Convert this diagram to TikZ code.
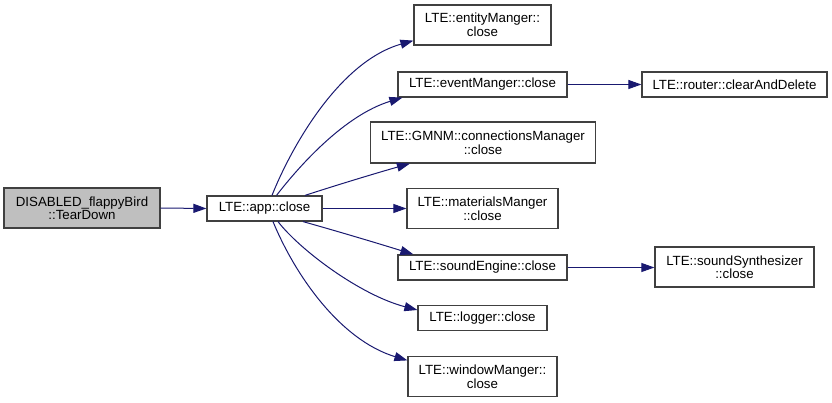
\documentclass[tikz,border=0pt]{standalone}
\usepackage{fontspec}
\setmainfont{Liberation Sans}
\usetikzlibrary{arrows.meta,calc}
\definecolor{edgeblue}{HTML}{191970}
\definecolor{boxline}{HTML}{404040}
\definecolor{grayfill}{HTML}{BFBFBF}
\tikzset{
  fbox/.style={draw=boxline, line width=1.2pt, fill=white, inner sep=0pt, align=center,
    font=\fontsize{13.3}{13.5}\selectfont},
  edge/.style={draw=edgeblue, line width=1pt, -{Triangle[length=13pt,width=9pt]}},
}
\begin{document}
\begin{tikzpicture}[x=1pt,y=-1pt]
\useasboundingbox (0,0) rectangle (832,403);
\node[fbox, fill=grayfill, minimum width=156pt, minimum height=40pt] (dis) at (82,208) {DISABLED\_flappyBird\\::TearDown};
\node[fbox, minimum width=115pt, minimum height=25pt] (app) at (264.5,208.5) {LTE::app::close};
\node[fbox, minimum width=137pt, minimum height=40pt] (ent) at (482.5,25) {LTE::entityManger::\\close};
\node[fbox, minimum width=169pt, minimum height=25pt] (evt) at (482.5,84.5) {LTE::eventManger::close};
\node[fbox, minimum width=185pt, minimum height=25pt] (rtr) at (734.5,84.5) {LTE::router::clearAndDelete};
\node[fbox, minimum width=225pt, minimum height=41pt] (gmnm) at (483,142.5) {LTE::GMNM::connectionsManager\\::close};
\node[fbox, minimum width=151pt, minimum height=40pt] (mat) at (482.5,208.5) {LTE::materialsManger\\::close};
\node[fbox, minimum width=169pt, minimum height=25pt] (snd) at (482.5,267.5) {LTE::soundEngine::close};
\node[fbox, minimum width=159pt, minimum height=40pt] (syn) at (734.5,267) {LTE::soundSynthesizer\\::close};
\node[fbox, minimum width=129pt, minimum height=25pt] (log) at (482.5,318) {LTE::logger::close};
\node[fbox, minimum width=149pt, minimum height=40pt] (win) at (482.5,376.5) {LTE::windowManger::\\close};

\draw[edge] (dis.east) -- (app.west);
\draw[edge] ($(app.north)+(7.5,0)$) .. controls (290,150) and (338,62) .. ($(ent.south west)+(0,-5)$);
\draw[edge] ($(app.north)+(12,0)$) .. controls (300,165) and (345,115) .. ($(evt.south west)+(5,0)$);
\draw[edge] ($(app.north)+(40.5,0)$) .. controls (340,184) and (380,172) .. ($(gmnm.south west)+(40,0)$);
\draw[edge] (app.east) -- (mat.west);
\draw[edge] ($(app.south)+(38.5,0)$) .. controls (340,232) and (380,244) .. ($(snd.north west)+(16,0)$);
\draw[edge] ($(app.south)+(13.5,0)$) .. controls (300,250) and (360,295) .. ($(log.west)+(0,-8)$);
\draw[edge] ($(app.south)+(8.5,0)$) .. controls (295,275) and (340,340) .. ($(win.north west)+(0,4.5)$);
\draw[edge] (evt.east) -- (rtr.west);
\draw[edge] (snd.east) -- (syn.west |- snd.east);
\end{tikzpicture}
\end{document}
